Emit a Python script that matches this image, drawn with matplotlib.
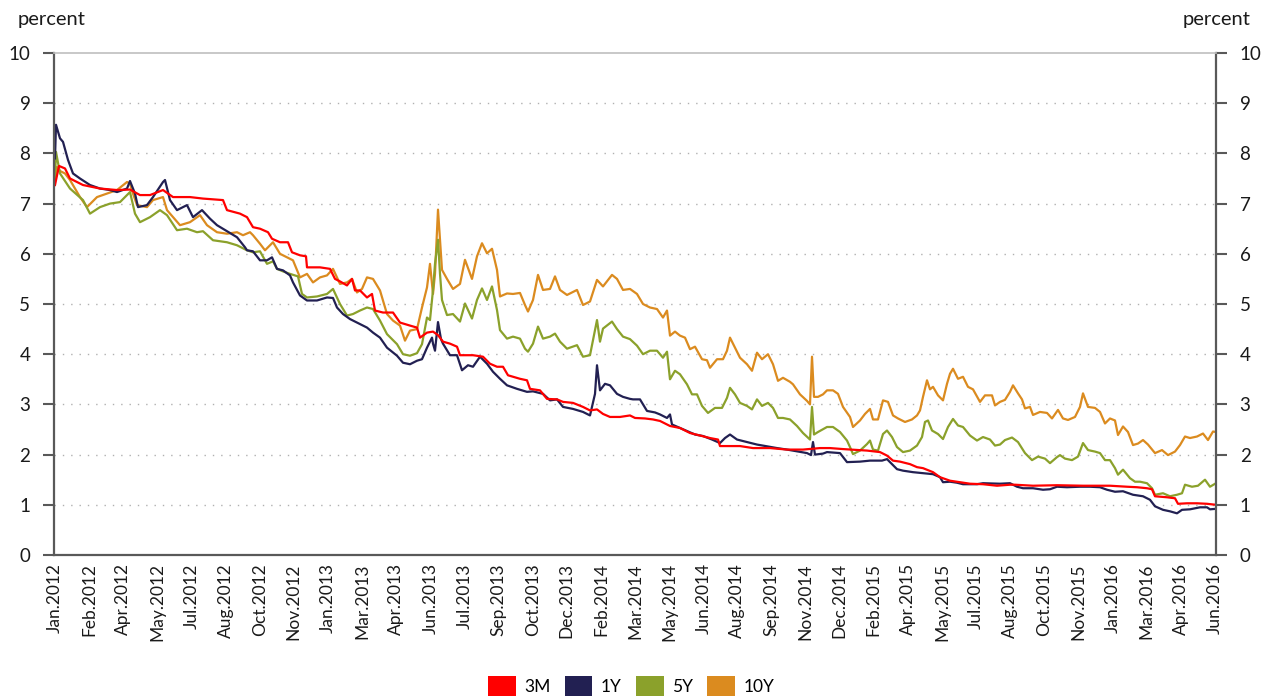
import numpy as np
import matplotlib
matplotlib.use("Agg")
import matplotlib.pyplot as plt
from matplotlib.patches import Patch

# ---- data (x = trading-day index from Jan 2012) ----
x_3m = [0, 4, 10, 15, 28, 45, 62, 75, 85, 95, 108, 118, 135, 148, 168, 172, 185, 192, 198, 205, 213, 217, 225, 233, 237, 245, 251, 252, 265, 275, 280, 285, 292, 297, 300, 305, 312, 317, 320, 328, 338, 345, 355, 362, 365, 372, 378, 383, 388, 395, 402, 405, 418, 428, 435, 442, 448, 453, 465, 472, 475, 485, 492, 502, 508, 518, 528, 535, 542, 548, 555, 565, 575, 580, 590, 598, 605, 615, 625, 635, 645, 655, 663, 665, 685, 698, 715, 732, 748, 765, 775, 788, 812, 825, 832, 838, 845, 855, 862, 868, 878, 885, 895, 905, 915, 928, 942, 955, 960, 978, 1002, 1028, 1055, 1072, 1082, 1092, 1097, 1100, 1112, 1120, 1123, 1132, 1142, 1152, 1161]
y_3m = [7.37, 7.75, 7.7, 7.5, 7.37, 7.3, 7.27, 7.28, 7.17, 7.17, 7.27, 7.13, 7.13, 7.1, 7.07, 6.87, 6.8, 6.73, 6.53, 6.5, 6.43, 6.3, 6.23, 6.23, 6.03, 5.97, 5.95, 5.73, 5.73, 5.7, 5.5, 5.45, 5.37, 5.5, 5.27, 5.27, 5.13, 5.2, 4.87, 4.83, 4.83, 4.63, 4.57, 4.53, 4.33, 4.43, 4.45, 4.38, 4.25, 4.21, 4.15, 3.98, 3.98, 3.95, 3.81, 3.75, 3.75, 3.58, 3.51, 3.48, 3.31, 3.28, 3.11, 3.1, 3.05, 3.03, 2.95, 2.88, 2.9, 2.81, 2.75, 2.75, 2.78, 2.73, 2.72, 2.7, 2.67, 2.57, 2.53, 2.43, 2.38, 2.33, 2.3, 2.17, 2.17, 2.13, 2.13, 2.1, 2.1, 2.13, 2.13, 2.11, 2.08, 2.05, 1.98, 1.88, 1.86, 1.81, 1.75, 1.73, 1.65, 1.55, 1.48, 1.45, 1.42, 1.41, 1.38, 1.4, 1.4, 1.38, 1.39, 1.38, 1.38, 1.36, 1.35, 1.33, 1.31, 1.17, 1.15, 1.13, 1.02, 1.03, 1.03, 1.02, 1.0]

x_1y = [0, 1, 5, 8, 13, 18, 25, 35, 45, 55, 62, 72, 75, 80, 83, 92, 98, 108, 110, 115, 122, 132, 138, 147, 155, 162, 182, 190, 192, 198, 205, 212, 217, 222, 228, 235, 238, 245, 252, 262, 272, 278, 282, 288, 295, 305, 312, 318, 325, 332, 342, 348, 355, 362, 367, 372, 377, 378, 380, 383, 386, 388, 395, 402, 407, 413, 418, 425, 432, 438, 445, 452, 462, 472, 478, 488, 495, 502, 508, 518, 528, 535, 540, 542, 545, 550, 555, 562, 568, 575, 578, 585, 592, 600, 605, 612, 615, 617, 625, 632, 640, 648, 657, 665, 670, 675, 682, 688, 702, 722, 732, 752, 756, 758, 760, 768, 772, 785, 792, 805, 815, 827, 832, 837, 842, 848, 858, 868, 878, 885, 888, 895, 902, 908, 922, 928, 945, 955, 962, 968, 978, 988, 995, 1002, 1012, 1025, 1035, 1045, 1052, 1060, 1068, 1078, 1088, 1095, 1100, 1108, 1115, 1122, 1127, 1135, 1145, 1152, 1155, 1161]
y_1y = [7.9, 8.57, 8.3, 8.23, 7.87, 7.6, 7.5, 7.37, 7.3, 7.27, 7.23, 7.3, 7.45, 7.2, 6.93, 6.97, 7.13, 7.43, 7.47, 7.07, 6.87, 6.97, 6.73, 6.87, 6.7, 6.57, 6.33, 6.13, 6.07, 6.05, 5.87, 5.87, 5.93, 5.7, 5.67, 5.57, 5.43, 5.17, 5.07, 5.07, 5.13, 5.12, 4.93, 4.8, 4.7, 4.6, 4.53, 4.43, 4.33, 4.13, 3.97, 3.83, 3.8, 3.87, 3.9, 4.13, 4.33, 4.21, 4.07, 4.64, 4.3, 4.21, 3.98, 3.98, 3.68, 3.78, 3.75, 3.95, 3.81, 3.65, 3.51, 3.38, 3.31, 3.25, 3.26, 3.21, 3.08, 3.1, 2.95, 2.91, 2.85, 2.78, 3.21, 3.78, 3.28, 3.41, 3.38, 3.21, 3.15, 3.11, 3.1, 3.1, 2.87, 2.84, 2.8, 2.73, 2.8, 2.6, 2.53, 2.47, 2.4, 2.37, 2.3, 2.23, 2.33, 2.4, 2.3, 2.27, 2.2, 2.13, 2.1, 2.03, 1.99, 2.25, 2.0, 2.02, 2.05, 2.03, 1.85, 1.86, 1.88, 1.88, 1.91, 1.81, 1.71, 1.68, 1.65, 1.63, 1.61, 1.55, 1.45, 1.46, 1.44, 1.41, 1.41, 1.43, 1.42, 1.43, 1.36, 1.33, 1.33, 1.3, 1.31, 1.36, 1.35, 1.36, 1.36, 1.35, 1.3, 1.26, 1.27, 1.2, 1.17, 1.1, 0.97, 0.9, 0.87, 0.83, 0.9, 0.91, 0.95, 0.95, 0.91, 0.92]

x_5y = [0, 1, 5, 15, 28, 35, 45, 55, 65, 75, 80, 85, 95, 105, 112, 122, 132, 142, 148, 158, 172, 182, 192, 198, 205, 212, 218, 222, 228, 235, 243, 247, 252, 262, 272, 278, 285, 292, 298, 305, 312, 318, 325, 332, 342, 348, 355, 362, 367, 372, 375, 377, 378, 380, 383, 385, 387, 392, 398, 405, 410, 417, 422, 427, 432, 437, 442, 445, 452, 458, 465, 470, 473, 478, 483, 488, 495, 500, 505, 512, 522, 528, 535, 542, 545, 548, 557, 562, 568, 575, 582, 588, 595, 602, 608, 612, 615, 620, 625, 632, 637, 642, 647, 653, 660, 667, 672, 675, 680, 685, 692, 697, 702, 707, 713, 718, 723, 728, 735, 742, 748, 755, 757, 759, 763, 772, 778, 785, 792, 795, 798, 805, 812, 815, 818, 823, 828, 832, 837, 842, 848, 855, 862, 867, 870, 873, 877, 883, 888, 893, 898, 903, 908, 915, 922, 928, 935, 940, 945, 950, 957, 963, 970, 977, 983, 990, 995, 1002, 1005, 1010, 1017, 1023, 1028, 1033, 1040, 1045, 1050, 1055, 1060, 1063, 1068, 1075, 1080, 1085, 1092, 1097, 1100, 1108, 1115, 1122, 1127, 1130, 1137, 1143, 1150, 1155, 1161]
y_5y = [7.5, 8.03, 7.6, 7.3, 7.07, 6.8, 6.93, 7.0, 7.03, 7.23, 6.8, 6.63, 6.73, 6.87, 6.77, 6.47, 6.5, 6.43, 6.45, 6.27, 6.23, 6.17, 6.07, 6.03, 6.05, 5.8, 5.85, 5.7, 5.65, 5.6, 5.55, 5.2, 5.13, 5.15, 5.2, 5.3, 5.0, 4.77, 4.8, 4.87, 4.93, 4.9, 4.67, 4.4, 4.2, 4.0, 3.97, 4.02, 4.2, 4.73, 4.68, 5.07, 5.28, 5.8, 6.28, 5.6, 5.08, 4.78, 4.8, 4.65, 5.01, 4.71, 5.08, 5.31, 5.08, 5.35, 4.88, 4.48, 4.31, 4.35, 4.31, 4.11, 4.05, 4.21, 4.55, 4.31, 4.35, 4.41, 4.25, 4.11, 4.18, 3.95, 3.98, 4.68, 4.25, 4.51, 4.65, 4.5, 4.35, 4.3, 4.17, 4.0, 4.07, 4.07, 3.93, 4.05, 3.5, 3.67, 3.6, 3.4, 3.2, 3.2, 2.97, 2.83, 2.93, 2.93, 3.13, 3.33, 3.2, 3.03, 2.97, 2.9, 3.1, 2.97, 3.03, 2.93, 2.73, 2.73, 2.7, 2.57, 2.43, 2.3, 2.95, 2.4, 2.45, 2.55, 2.55, 2.45, 2.28, 2.15, 2.01, 2.08, 2.21, 2.28, 2.1, 2.08, 2.41, 2.48, 2.35, 2.15, 2.05, 2.08, 2.18, 2.35, 2.65, 2.68, 2.48, 2.41, 2.31, 2.55, 2.71, 2.58, 2.55, 2.38, 2.28, 2.35, 2.3, 2.18, 2.2, 2.29, 2.34, 2.25, 2.03, 1.89, 1.96, 1.92, 1.83, 1.95, 1.99, 1.92, 1.89, 1.96, 2.23, 2.09, 2.06, 2.03, 1.89, 1.89, 1.73, 1.6, 1.7, 1.53, 1.46, 1.46, 1.43, 1.33, 1.2, 1.23, 1.17, 1.2, 1.23, 1.4, 1.36, 1.38, 1.5, 1.36, 1.43]

x_10y = [0, 2, 5, 10, 15, 25, 32, 42, 52, 62, 72, 75, 78, 82, 92, 98, 108, 112, 125, 135, 145, 152, 162, 172, 182, 188, 195, 198, 205, 210, 215, 218, 225, 232, 238, 245, 252, 258, 265, 272, 278, 285, 292, 297, 302, 307, 312, 318, 325, 332, 338, 345, 350, 355, 362, 367, 372, 375, 378, 380, 383, 387, 392, 398, 405, 410, 417, 422, 427, 432, 437, 442, 445, 452, 458, 465, 470, 473, 478, 483, 488, 495, 500, 505, 512, 522, 528, 535, 542, 548, 557, 562, 568, 575, 582, 588, 595, 602, 608, 612, 615, 620, 625, 630, 635, 640, 647, 652, 655, 662, 668, 672, 675, 680, 685, 692, 697, 702, 707, 713, 718, 723, 728, 735, 738, 745, 752, 755, 757, 759, 763, 768, 772, 778, 783, 788, 795, 798, 805, 810, 815, 818, 823, 828, 833, 838, 843, 850, 857, 862, 865, 868, 872, 875, 878, 883, 888, 892, 895, 898, 903, 908, 913, 918, 925, 930, 937, 940, 945, 950, 955, 958, 963, 967, 970, 975, 978, 985, 992, 997, 1003, 1008, 1013, 1020, 1025, 1028, 1033, 1040, 1045, 1050, 1055, 1060, 1063, 1068, 1073, 1078, 1083, 1088, 1093, 1100, 1107, 1113, 1120, 1125, 1130, 1135, 1142, 1148, 1153, 1158, 1161]
y_10y = [7.5, 7.73, 7.65, 7.6, 7.47, 7.13, 6.93, 7.13, 7.2, 7.27, 7.43, 7.4, 7.2, 6.97, 6.93, 7.07, 7.13, 6.87, 6.57, 6.63, 6.77, 6.57, 6.43, 6.4, 6.43, 6.37, 6.43, 6.37, 6.2, 6.07, 6.17, 6.23, 6.0, 5.93, 5.87, 5.53, 5.6, 5.43, 5.53, 5.57, 5.7, 5.4, 5.43, 5.5, 5.23, 5.3, 5.53, 5.5, 5.27, 4.8, 4.67, 4.57, 4.27, 4.47, 4.5, 4.93, 5.33, 5.8, 5.2, 5.6, 6.88, 5.68, 5.5, 5.3, 5.4, 5.88, 5.5, 5.95, 6.21, 6.01, 6.1, 5.68, 5.15, 5.21, 5.2, 5.22, 4.98, 4.85, 5.08, 5.58, 5.28, 5.3, 5.55, 5.28, 5.18, 5.28, 4.98, 5.05, 5.48, 5.35, 5.58, 5.5, 5.28, 5.3, 5.2, 5.0, 4.93, 4.9, 4.73, 4.87, 4.37, 4.45, 4.37, 4.33, 4.1, 4.15, 3.9, 3.88, 3.73, 3.9, 3.9, 4.07, 4.33, 4.13, 3.93, 3.8, 3.67, 4.03, 3.9, 4.0, 3.8, 3.47, 3.53, 3.45, 3.4, 3.2, 3.07, 3.0, 3.95, 3.15, 3.15, 3.2, 3.28, 3.28, 3.21, 2.95, 2.75, 2.55, 2.68, 2.81, 2.91, 2.7, 2.7, 3.08, 3.05, 2.78, 2.72, 2.65, 2.7, 2.78, 2.88, 3.15, 3.48, 3.3, 3.35, 3.18, 3.08, 3.41, 3.61, 3.71, 3.51, 3.55, 3.35, 3.3, 3.05, 3.18, 3.18, 2.98, 3.05, 3.09, 3.25, 3.38, 3.22, 3.1, 2.92, 2.95, 2.79, 2.85, 2.83, 2.72, 2.89, 2.72, 2.69, 2.75, 2.95, 3.22, 2.95, 2.93, 2.85, 2.62, 2.72, 2.68, 2.39, 2.56, 2.45, 2.19, 2.22, 2.29, 2.2, 2.03, 2.09, 1.99, 2.06, 2.19, 2.36, 2.33, 2.36, 2.42, 2.29, 2.46, 2.45]

tick_labels = ["Jan.2012", "Feb.2012", "Apr.2012", "May.2012", "Jul.2012", "Aug.2012",
               "Oct.2012", "Nov.2012", "Jan.2013", "Mar.2013", "Apr.2013", "Jun.2013",
               "Jul.2013", "Sep.2013", "Oct.2013", "Dec.2013", "Feb.2014", "Mar.2014",
               "May.2014", "Jun.2014", "Aug.2014", "Sep.2014", "Nov.2014", "Dec.2014",
               "Feb.2015", "Apr.2015", "May.2015", "Jul.2015", "Aug.2015", "Oct.2015",
               "Nov.2015", "Jan.2016", "Mar.2016", "Apr.2016", "Jun.2016"]

series_names = ["3M", "1Y", "5Y", "10Y"]
series_colors = ["#FF0000", "#222052", "#8BA12B", "#DB8B1F"]

plt.rcParams['font.family'] = ['Lato', 'DejaVu Sans']

fig = plt.figure(figsize=(12.61, 6.99), dpi=100)
ax = fig.add_axes([54/1261, 1-555/699, (1216-54)/1261, (555-53)/699])

data = [(x_3m, y_3m), (x_1y, y_1y), (x_5y, y_5y), (x_10y, y_10y)]
for (xs, ys), c in zip(data[::-1], series_colors[::-1]):
    ax.plot(xs, ys, color=c, lw=1.6, solid_joinstyle='round')

ax.set_ylim(0, 10)
ax.set_xlim(-1, 1161)
ax.set_yticks(range(0, 11))
ax.set_xticks(np.linspace(0, 1160, len(tick_labels)))
ax.set_xticklabels(tick_labels, rotation=90, fontsize=12.5, color="#1a1a1a")

for v in range(1, 10):
    ax.axhline(v, color="#b0b0b0", lw=1.0, ls=(0, (1, 5)), zorder=0)

ax.tick_params(axis='y', which='both', left=True, right=True, labelleft=True,
               labelright=True, direction='out', length=8, width=1.5,
               color="#595959", labelsize=13.5, labelcolor="#1a1a1a", pad=9)
ax.tick_params(axis='x', length=0, pad=6)

for s in ['left', 'right', 'bottom']:
    ax.spines[s].set_color("#595959")
    ax.spines[s].set_linewidth(1.6)
ax.spines['top'].set_color("#bfbfbf")
ax.spines['top'].set_linewidth(1.2)

fig.text(18/1261, 1-20/699, "percent", fontsize=14.5, ha='left', va='center', color="#1a1a1a")
fig.text(1250/1261, 1-20/699, "percent", fontsize=14.5, ha='right', va='center', color="#1a1a1a")

handles = [Patch(facecolor=c, edgecolor='none') for c in series_colors]
fig.legend(handles, series_names, loc='center', bbox_to_anchor=(0.5005, 1-686/699),
           ncol=4, frameon=False, fontsize=12.5, handlelength=1.6, handleheight=1.45,
           handletextpad=0.5, columnspacing=0.8)

fig.savefig("out.png", dpi=100)
